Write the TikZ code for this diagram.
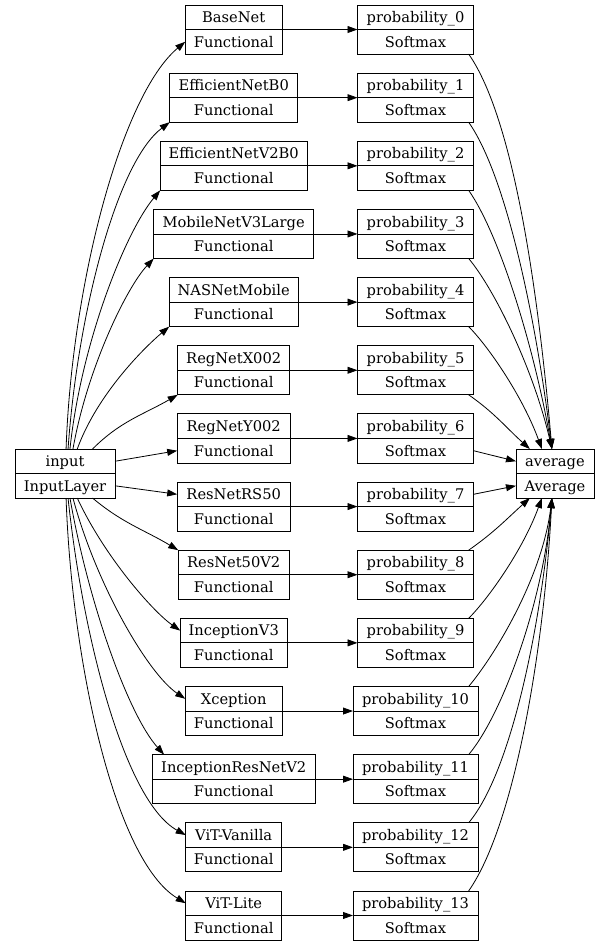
\documentclass[tikz,border=0pt]{standalone}
\usepackage{fontspec}
\setmainfont{DejaVu Serif}
\usetikzlibrary{arrows.meta, positioning}
\tikzset{
    layer/.style={rectangle, draw, line width=0.6pt, minimum width=#1*0.75pt,
                  minimum height=18.4pt, inner sep=0pt, outer sep=0pt,
                  text height=8pt, text depth=0pt, font=\fontsize{11}{13}\selectfont},
    edge/.style={-{Triangle[length=7.5pt, width=5.2pt]}, line width=0.6pt},
}

\begin{document}
\begin{tikzpicture}[x=0.75pt, y=0.75pt]
    \useasboundingbox (0,0) rectangle (615,-946);

    % Input layer
    \node[layer=100] (inp) at (65,-461.25) {input};
    \node[layer=100, below=0pt of inp] (inpT) {InputLayer};

    % Backbones (middle column)
    \foreach \i/\lname/\w in {0/BaseNet/97, 1/EfficientNetB0/128, 2/EfficientNetV2B0/147,
        3/MobileNetV3Large/160, 4/NASNetMobile/129, 5/RegNetX002/112, 6/RegNetY002/113,
        7/ResNetRS50/113, 8/ResNet50V2/111, 9/InceptionV3/107, 10/Xception/97,
        11/InceptionResNetV2/163, 12/ViT-Vanilla/96, 13/ViT-Lite/96} {
        \node[layer=\w] (m\i) at (233.7,{-17.25-68.15*\i}) {\lname};
        \node[layer=\w, below=0pt of m\i] (mt\i) {Functional};
    }

    % Softmax heads (right column)
    \foreach \i/\w in {0/116, 1/116, 2/116, 3/116, 4/116, 5/116, 6/116,
        7/116, 8/116, 9/116, 10/125, 11/125, 12/125, 13/125} {
        \node[layer=\w] (p\i) at (415.5,{-17.25-68.15*\i}) {probability\_\i};
        \node[layer=\w, below=0pt of p\i] (pt\i) {Softmax};
        \draw[edge] (m\i.south east) -- (p\i.south west);
    }

    % Average
    \node[layer=78] (avg) at (555,-461.25) {average};
    \node[layer=78, below=0pt of avg] (avgT) {Average};

    % Input to backbones
    \draw[edge] (inp.85) to[out=88, in=220, in looseness=0.5] (mt0.west);
    \draw[edge] (inp.76) to[out=86, in=217, in looseness=0.5] (mt1.south west);
    \draw[edge] (inp.68) to[out=84, in=230, in looseness=0.5] (mt2.south west);
    \draw[edge] (inp.57) to[out=80, in=227, in looseness=0.5] (mt3.south west);
    \draw[edge] (inp.45) to[out=70, in=220, in looseness=0.5] (mt4.south west);
    \draw[edge] (inp.24) to[out=45, in=210] (mt5.south west);
    \draw[edge] (inp.east) -- (mt6.west);
    \draw[edge] (inpT.east) -- (m7.west);
    \draw[edge] (inpT.-24) to[out=-40, in=149] (m8.north west);
    \draw[edge] (inpT.-45) to[out=-65, in=145, in looseness=0.5] (m9.west);
    \draw[edge] (inpT.-57) to[out=-75, in=146, in looseness=0.5] (m10.west);
    \draw[edge] (inpT.-68) to[out=-80, in=132, in looseness=0.5] (m11.170);
    \draw[edge] (inpT.-76) to[out=-84, in=151, in looseness=0.5] (m12.west);
    \draw[edge] (inpT.-85) to[out=-88, in=149, in looseness=0.5] (m13.west);

    % Heads to average
    \draw[edge] (pt0.-13) to[out=-55, in=95, out looseness=0.5] (avg.104);
    \draw[edge] (pt1.-13) to[out=-55, in=97, out looseness=0.5] (avg.104);
    \draw[edge] (pt2.-13) to[out=-55, in=100, out looseness=0.5] (avg.104);
    \draw[edge] (pt3.-13) to[out=-50, in=103, out looseness=0.5] (avg.104);
    \draw[edge] (pt4.-13) to[out=-45, in=110, out looseness=0.5] (avg.137);
    \draw[edge] (pt5.-13) to[out=-35, in=138] (avg.154);
    \draw[edge] (pt6.east) -- (avg.west);
    \draw[edge] (p7.east) -- (avgT.west);
    \draw[edge] (p8.13) to[out=35, in=222] (avgT.206);
    \draw[edge] (p9.13) to[out=45, in=250, out looseness=0.5] (avgT.223);
    \draw[edge] (p10.13) to[out=50, in=263, out looseness=0.5] (avgT.256);
    \draw[edge] (p11.13) to[out=50, in=265, out looseness=0.5] (avgT.256);
    \draw[edge] (p12.13) to[out=50, in=265, out looseness=0.5] (avgT.256);
    \draw[edge] (p13.13) to[out=55, in=267, out looseness=0.5] (avgT.256);

\end{tikzpicture}
\end{document}
